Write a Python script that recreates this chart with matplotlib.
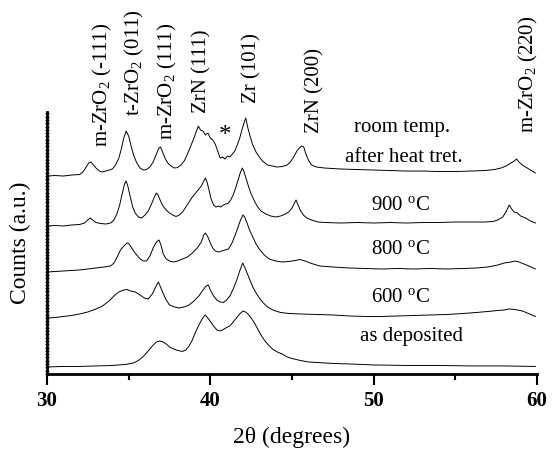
import matplotlib
matplotlib.use('Agg')
import matplotlib.pyplot as plt
from matplotlib.ticker import MultipleLocator

plt.rcParams['font.family'] = ['Liberation Serif', 'DejaVu Serif']
plt.rcParams['mathtext.fontset'] = 'custom'
plt.rcParams['mathtext.rm'] = 'Liberation Serif'
plt.rcParams['mathtext.default'] = 'regular'

# XRD patterns: 2theta (deg) and counts above each pattern's own baseline
room_x = [30.0, 30.5, 31.0, 31.5, 32.0, 32.2, 32.4, 32.55, 32.7, 32.85, 33.0, 33.2, 33.4, 33.6,
          33.8, 34.0, 34.2, 34.4, 34.55, 34.7, 34.85, 35.0, 35.15, 35.3, 35.5, 35.7, 35.9, 36.1,
          36.3, 36.5, 36.7, 36.85, 36.95, 37.1, 37.25, 37.4, 37.6, 37.8, 38.0, 38.2, 38.4, 38.6,
          38.8, 39.0, 39.15, 39.27, 39.4, 39.55, 39.7, 39.85, 40.0, 40.15, 40.3, 40.45, 40.6,
          40.75, 40.9, 41.05, 41.2, 41.35, 41.5, 41.65, 41.8, 41.95, 42.1, 42.17, 42.3, 42.45,
          42.6, 42.8, 43.0, 43.2, 43.5, 43.8, 44.1, 44.4, 44.7, 44.9, 45.1, 45.3, 45.45, 45.6,
          45.72, 45.85, 46.0, 46.2, 46.5, 47.0, 47.5, 48.0, 49.0, 50.0, 51.0, 52.0, 53.0, 54.0,
          55.0, 56.0, 56.8, 57.4, 57.8, 58.1, 58.4, 58.6, 58.75, 58.9, 59.1, 59.3, 59.5, 59.7,
          59.9]
room_y = [0, 0.5, 0, 1, 1.5, 4, 9, 13, 14, 11, 8, 5, 4, 5,
          6, 7, 11, 18, 27, 38, 45, 40, 30, 21, 13, 8, 6, 6.5,
          9, 14, 22, 28, 29, 23, 17, 13, 10, 8, 8.5, 11, 15, 22,
          30, 38, 45, 50, 46, 45, 41, 43, 38, 36, 32, 25, 18,
          19, 17, 20, 19, 22, 25, 31, 38, 47, 55, 58, 48, 39,
          31, 24, 19, 15, 11, 10, 9, 9.5, 11, 14, 19, 25, 28, 30,
          29, 22, 16, 11, 9, 8, 7.5, 7, 6.5, 6, 5.5, 5, 5, 4.5,
          4.5, 5, 5.5, 6.5, 8, 10, 13, 15, 17, 14, 11, 9, 7, 5,
          3]

t900_x = [30.0, 30.5, 31.0, 31.5, 32.0, 32.3, 32.5, 32.65, 32.8, 33.0, 33.3, 33.6, 33.9, 34.1,
          34.3, 34.45, 34.6, 34.75, 34.84, 34.95, 35.1, 35.25, 35.4, 35.6, 35.8, 36.0, 36.2,
          36.4, 36.55, 36.7, 36.8, 36.95, 37.1, 37.3, 37.5, 37.7, 37.9, 38.1, 38.3, 38.5, 38.7,
          38.9, 39.1, 39.3, 39.45, 39.6, 39.7, 39.8, 39.92, 40.05, 40.2, 40.35, 40.5, 40.65,
          40.8, 40.95, 41.1, 41.25, 41.4, 41.55, 41.7, 41.85, 41.96, 42.05, 42.2, 42.35, 42.5,
          42.7, 42.9, 43.1, 43.4, 43.7, 44.0, 44.3, 44.6, 44.8, 45.0, 45.15, 45.25, 45.35, 45.5,
          45.7, 45.9, 46.2, 46.6, 47.0, 48.0, 49.0, 50.0, 51.0, 52.0, 53.0, 54.0, 55.0, 56.0,
          56.8, 57.3, 57.6, 57.9, 58.1, 58.3, 58.45, 58.6, 58.8, 59.0, 59.3, 59.6, 59.9]
t900_y = [0, 0.5, 0, 1, 1.5, 3, 6, 8, 6, 3.5, 2.5, 2, 3, 6,
          13, 21, 32, 42, 45, 40, 29, 19, 13, 9, 8, 11, 15,
          22, 28, 33, 31, 25, 20, 16, 13, 11, 9.5, 11, 14, 19, 24,
          29, 33, 37, 40, 45, 48, 44, 36, 27, 21, 19, 20, 19,
          21, 22, 23, 26, 31, 38, 46, 54, 58, 55, 47, 39, 32,
          25, 19, 15, 12, 10, 9, 10, 12, 14, 18, 23, 26, 22, 16,
          11, 8, 6, 4, 3.5, 3, 3.5, 3, 3.5, 3, 3.5, 3.5, 4, 4,
          4, 4.5, 6, 9, 14, 21, 17, 14, 13, 10, 8, 5, 3]

t800_x = [30.0, 30.5, 31.0, 31.5, 32.0, 32.5, 33.0, 33.5, 33.9, 34.1, 34.3, 34.5, 34.7, 34.9,
          35.0, 35.15, 35.3, 35.5, 35.7, 35.9, 36.1, 36.3, 36.5, 36.7, 36.86, 37.0, 37.12, 37.3,
          37.5, 37.75, 38.0, 38.3, 38.6, 38.9, 39.2, 39.45, 39.6, 39.7, 39.85, 40.0, 40.15,
          40.3, 40.5, 40.7, 40.9, 41.1, 41.3, 41.5, 41.7, 41.85, 42.0, 42.1, 42.25, 42.4, 42.6,
          42.8, 43.0, 43.3, 43.6, 44.0, 44.4, 44.8, 45.2, 45.5, 45.8, 46.2, 46.7, 47.5, 48.5,
          49.5, 50.5, 51.5, 52.5, 53.5, 54.5, 55.5, 56.3, 57.0, 57.6, 58.0, 58.4, 58.66, 58.9,
          59.2, 59.5, 59.9]
t800_y = [0, 0.5, 1, 1.5, 2, 3, 4, 5, 6, 9, 15, 22, 26, 29,
          28.5, 25, 21, 17, 13, 11, 11, 16, 24, 30, 32, 26, 18, 13,
          11, 10, 11, 13, 15, 19, 24, 30, 37, 39, 35, 29, 24,
          21, 20, 21, 22, 23, 28, 36, 45, 52, 57, 55, 49, 42, 35,
          28, 23, 17, 13, 11, 10, 10.5, 11.5, 12.5, 11, 8.5, 6, 5, 4,
          3.5, 3, 3.5, 3, 3.5, 3, 3.5, 4, 5, 7, 9, 10, 11, 10,
          8, 6, 3]

t600_x = [30.0, 30.5, 31.0, 31.5, 32.0, 32.5, 33.0, 33.4, 33.8, 34.1, 34.4, 34.7, 34.9, 35.1,
          35.4, 35.7, 35.95, 36.2, 36.45, 36.65, 36.82, 36.95, 37.1, 37.3, 37.5, 37.8, 38.1,
          38.4, 38.7, 39.0, 39.3, 39.55, 39.75, 39.88, 40.0, 40.2, 40.4, 40.6, 40.8, 41.0, 41.2,
          41.4, 41.6, 41.8, 41.98, 42.1, 42.25, 42.4, 42.6, 42.8, 43.0, 43.25, 43.5, 43.9, 44.3,
          44.8, 45.5, 46.5, 47.5, 48.5, 49.5, 50.5, 51.5, 52.5, 53.5, 54.5, 55.5, 56.3, 57.0,
          57.6, 58.0, 58.3, 58.6, 58.8, 59.1, 59.4, 59.9]
t600_y = [0, 0.5, 1.5, 2.5, 4, 6, 9, 12, 17, 22, 26, 28, 28.5, 27,
          26, 23, 20, 19, 24, 31, 36, 31, 25, 18, 13, 11, 10,
          11, 13, 17, 22, 28, 32, 33, 28, 22, 18, 16, 15.5, 18, 22,
          29, 37, 47, 55, 51, 45, 39, 31, 25, 20, 15, 11, 7.5, 5.5,
          4.5, 4, 3.5, 3, 2, 1.5, 1.5, 2, 2.5, 3, 3.5, 4.5, 5.5, 6.5,
          7.5, 8, 9, 8.5, 8, 7, 5, 1.5]

dep_x = [30.0, 31.0, 32.0, 33.0, 34.0, 34.8, 35.3, 35.6, 35.9, 36.2, 36.45, 36.7, 36.9, 37.1,
         37.3, 37.5, 37.75, 38.0, 38.3, 38.5, 38.7, 38.9, 39.1, 39.3, 39.5, 39.68, 39.8, 39.98,
         40.2, 40.4, 40.6, 40.8, 41.0, 41.2, 41.4, 41.6, 41.8, 42.0, 42.15, 42.3, 42.5, 42.7,
         42.9, 43.1, 43.3, 43.5, 43.8, 44.1, 44.4, 44.7, 45.0, 45.5, 46.0, 46.7, 47.5, 48.5,
         50.0, 52.0, 54.0, 56.0, 58.0, 59.9]
dep_y = [0, 0.5, 0.5, 1, 1.5, 2.5, 4, 6.5, 10.5, 16, 21, 25, 26, 25,
         23, 20, 18, 16.5, 15.5, 17, 21, 27, 35, 42, 48, 52, 50, 46,
         41, 37, 36, 37.5, 39.5, 41, 45, 49, 53, 56, 55, 53, 49, 44,
         38, 32, 27, 23, 18, 15, 13, 10, 8.5, 6.5, 5, 4.3, 3.5, 3,
         2, 1.5, 1.5, 1, 1, 0.5]

patterns = [(room_x, room_y), (t900_x, t900_y), (t800_x, t800_y), (t600_x, t600_y), (dep_x, dep_y)]
offsets = [198, 148, 102, 56, 7]

fig = plt.figure(figsize=(5.54, 4.5), dpi=100)
ax = fig.add_axes([0.0848, 0.169, 0.8845, 0.582])

for (xs, ys), off in zip(patterns, offsets):
    ax.plot(xs, [v + off for v in ys], color='black', lw=0.7)

ax.set_xlim(30, 60)
ax.set_ylim(0, 262)

for side in ['top', 'right']:
    ax.spines[side].set_visible(False)
ax.spines['left'].set_linewidth(2)
ax.spines['bottom'].set_linewidth(2)

ax.set_xticks([30, 40, 50, 60])
ax.xaxis.set_minor_locator(MultipleLocator(5))
ax.tick_params(axis='x', which='major', direction='out', length=8, width=1.5, labelsize=15, pad=4)
ax.tick_params(axis='x', which='minor', direction='out', length=4, width=1.5)
for lab in ax.get_xticklabels():
    lab.set_fontweight('bold')

ax.yaxis.set_major_locator(MultipleLocator(3.3))
ax.tick_params(axis='y', which='major', direction='inout', length=3, width=1, labelleft=False)

ax.set_xlabel('2θ (degrees)', fontsize=17, labelpad=12)
ax.set_ylabel('Counts (a.u.)', fontsize=17, labelpad=10)

# peak assignments
peaks = [(33.37, 'm-ZrO$_2$ (-111)', 227), (35.38, 't-ZrO$_2$ (011)', 258),
         (37.35, 'm-ZrO$_2$ (111)', 234), (39.49, 'ZrN (111)', 261),
         (42.55, 'Zr (101)', 271), (46.41, 'ZrN (200)', 241),
         (59.46, 'm-ZrO$_2$ (220)', 241)]
for xp, txt, yp in peaks:
    ax.text(xp, yp, txt, rotation=90, ha='center', va='bottom', fontsize=15, clip_on=False)

ax.text(40.9, 238, '*', ha='center', va='center', fontsize=18)

labels = [(402, 127, 'room temp.'), (404, 157, 'after heat tret.'),
          (401, 205, '900 $^{o}$C'), (401, 250, '800 $^{o}$C'),
          (401, 298, '600 $^{o}$C'), (411, 337, 'as deposited')]
for px, py, txt in labels:
    ax.text(30 + (px - 47) / 16.33, 374 - py, txt, ha='center', va='center', fontsize=15)

fig.savefig('out.png', dpi=100)
